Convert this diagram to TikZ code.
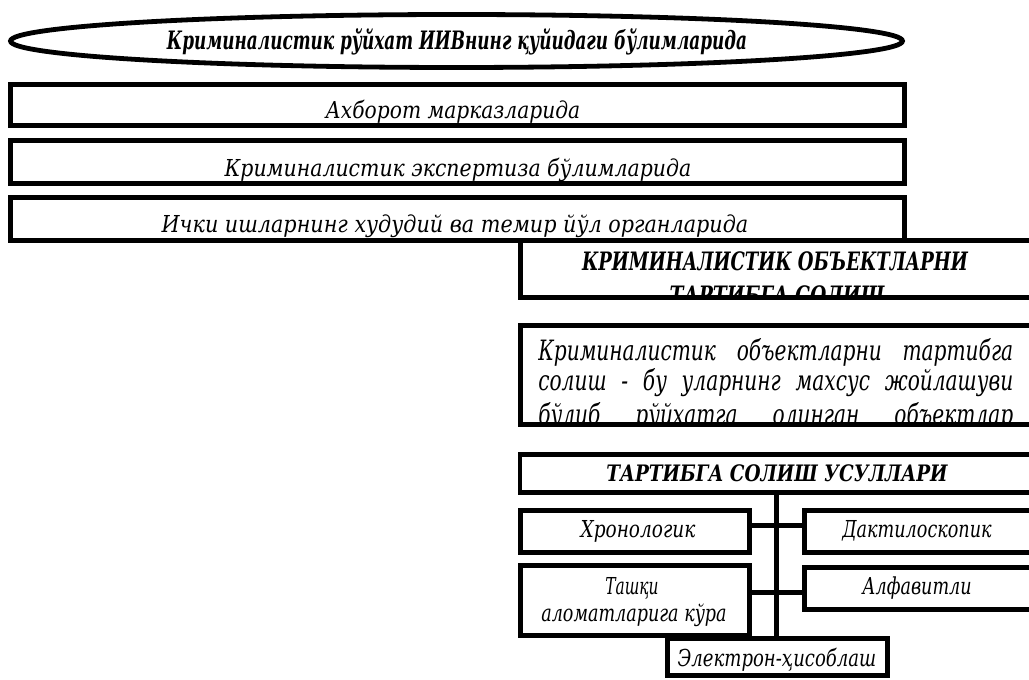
\documentclass[tikz,border=0pt]{standalone}
\usepackage{fontspec}
\usepackage{graphicx}
\setmainfont{DejaVu Serif}
\newfontfamily\parfont{DejaVu Serif}[FakeStretch=0.72]
\usetikzlibrary{shapes.geometric,fit}
\newcommand\fitw[2]{\resizebox{#1}{\height}{#2}}
\begin{document}
\begin{tikzpicture}[x=0.75pt,y=-0.75pt,
  lw/.style={line width=3.6pt},
  box/.style={draw,lw,rectangle,inner sep=0pt,outer sep=0pt},
  conn/.style={lw},
  itx/.style={inner sep=0pt,anchor=base,font=\itshape\fontsize{17.5pt}{20pt}\selectfont},
  bitx/.style={inner sep=0pt,anchor=base,font=\bfseries\itshape\fontsize{19pt}{22pt}\selectfont},
  partx/.style={inner sep=0pt,anchor=base west,font=\parfont\itshape\fontsize{21pt}{25pt}\selectfont}]
\useasboundingbox (0,0) rectangle (1029,680);
\clip (0,0) rectangle (1029,680);
% ellipse
\node[draw,lw,ellipse,inner sep=0pt,minimum width=669pt,minimum height=39.75pt] (ell) at (456.5,41) {};
\node[bitx] (tell) at (457,50) {\fitw{435pt}{Криминалистик рўйхат ИИВнинг қуйидаги бўлимларида}};
% three boxes
\node[box,fit={(10.5,84.5)(904.5,125.5)}] (b1) {};
\node[box,fit={(10.5,140.5)(904.5,183.5)}] (b2) {};
\node[box,fit={(10.5,197.5)(904.5,240.5)}] (b3) {};
\begin{scope}\clip (b1.north west) rectangle (b1.south east);
\node[itx] (t1) at (453,118.5) {\fitw{191pt}{Ахборот марказларида}};\end{scope}
\begin{scope}\clip (b2.north west) rectangle (b2.south east);
\node[itx] (t2) at (458,176.5) {\fitw{350pt}{Криминалистик экспертиза бўлимларида}};\end{scope}
\begin{scope}\clip (b3.north west) rectangle (b3.south east);
\node[itx] (t3) at (455,233) {\fitw{440pt}{Ички ишларнинг худудий ва темир йўл органларида}};\end{scope}
% big title box
\node[box,fit={(520.5,240.5)(1045,297.5)}] (b4) {};
\begin{scope}\clip (b4.north west) rectangle (b4.south east);
\node[bitx] (t4a) at (775,271) {\fitw{289.5pt}{КРИМИНАЛИСТИК ОБЪЕКТЛАРНИ}};
\node[bitx] (t4b) at (777,305) {\fitw{161pt}{ТАРТИБГА СОЛИШ}};\end{scope}
% paragraph box
\node[box,fit={(520.5,325.5)(1045,424.5)}] (b5) {};
\begin{scope}\clip (b5.north west) rectangle (b5.south east);
\node[partx] (p1) at (538,361) {\makebox[356.25pt][s]{Криминалистик объектларни тартибга}};
\node[partx] (p2) at (538,391) {\makebox[356.25pt][s]{солиш - бу уларнинг махсус жойлашуви}};
\node[partx] (p3) at (538,425) {\makebox[356.25pt][s]{бўлиб рўйхатга олинган объектлар}};\end{scope}
% methods
\node[box,fit={(520,454.5)(1045,492.5)}] (m) {};
\node[bitx,font=\bfseries\itshape\fontsize{17pt}{20pt}\selectfont] (tm) at (777,482) {\fitw{256pt}{ТАРТИБГА СОЛИШ УСУЛЛАРИ}};
\node[box,fit={(520.5,510.5)(749.5,552.5)}] (hr) {};
\node[itx] (thr) at (638,538) {\fitw{86pt}{Хронологик}};
\node[box,fit={(804.5,510.5)(1045,552.5)}] (dk) {};
\node[itx] (tdk) at (917,538) {\fitw{112pt}{Дактилоскопик}};
\node[box,fit={(520.5,565.5)(749.5,635.5)}] (tq) {};
\node[itx] (tq1) at (632,595) {\fitw{40pt}{Ташқи}};
\node[itx] (tq2) at (634,622) {\fitw{139pt}{аломатларига кўра}};
\node[box,fit={(804.5,567.5)(1045,609.5)}] (al) {};
\node[itx] (tal) at (917,595) {\fitw{82pt}{Алфавитли}};
\node[box,fit={(667.5,638.5)(887.5,675.5)}] (el) {};
\node[itx] (tel) at (777,667) {\fitw{149pt}{Электрон-ҳисоблаш}};
% connectors
\coordinate (tk) at (776.5,0);
\coordinate (h1) at (0,525.5);
\coordinate (h2) at (0,592.5);
\draw[conn] (m.south -| tk) -- (el.north -| tk);
\draw[conn] (hr.east |- h1) -- (dk.west |- h1);
\draw[conn] (tq.east |- h2) -- (al.west |- h2);
\end{tikzpicture}
\end{document}
